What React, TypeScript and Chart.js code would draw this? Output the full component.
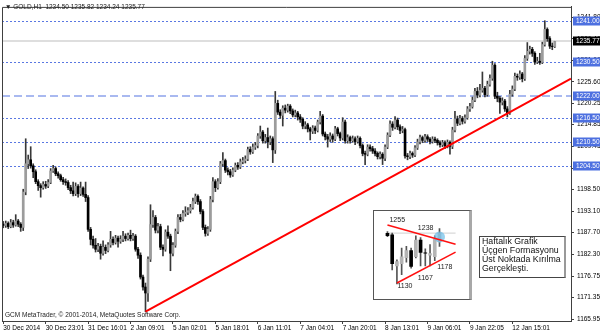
import React, { useEffect, useRef } from "react";
import { Chart, registerables } from "chart.js";
Chart.register(...registerables);

// ---------- main H1 chart data ----------
const firstOpen = 1189.8;
const closes = [
  1189.5,1190.0,1189.2,1190.2,1189.6,1190.6,1189.8,1189.0,1197.9,1205.0,
  1206.0,1204.5,1203.0,1200.5,1199.5,1199.0,1199.8,1199.4,1200.3,1203.2,
  1203.8,1202.5,1202.0,1201.0,1200.5,1200.3,1199.0,1198.2,1197.5,1199.3,
  1197.5,1198.9,1197.3,1196.5,1188.5,1186.0,1184.5,1183.5,1184.2,1182.5,
  1184.0,1183.2,1184.6,1186.0,1185.2,1186.3,1185.5,1186.0,1186.8,1186.2,
  1187.0,1186.2,1186.8,1183.5,1182.0,1176.5,1174.0,1172.5,1181.0,1189.7,
  1191.5,1188.3,1189.2,1184.0,1183.5,1187.8,1186.8,1182.5,1184.5,1188.0,
  1191.5,1191.0,1192.5,1192.8,1193.2,1194.0,1195.5,1196.8,1195.5,1193.0,
  1189.0,1187.5,1188.5,1196.0,1200.5,1199.0,1200.5,1205.0,1205.8,1203.4,
  1203.0,1202.2,1203.4,1204.6,1204.2,1205.5,1205.8,1206.2,1208.6,1208.0,
  1209.2,1209.6,1212.0,1213.0,1210.8,1211.6,1210.5,1211.3,1208.5,1220.2,
  1218.0,1217.2,1219.0,1218.5,1219.5,1218.3,1217.3,1217.8,1216.8,1216.2,
  1214.5,1214.8,1213.8,1213.2,1214.0,1213.4,1215.5,1217.0,1212.5,1211.8,
  1211.2,1212.0,1211.2,1213.8,1212.6,1211.5,1215.5,1210.8,1211.6,1210.8,
  1211.3,1210.6,1211.4,1209.6,1207.6,1207.4,1209.2,1208.8,1208.2,1207.6,
  1206.8,1207.4,1206.4,1209.2,1212.2,1215.0,1214.2,1216.0,1214.3,1213.4,
  1213.6,1207.0,1206.8,1207.6,1207.2,1209.0,1210.5,1211.6,1210.9,1211.8,
  1211.2,1210.6,1211.2,1210.9,1210.3,1209.8,1210.3,1209.5,1210.4,1209.4,
  1213.5,1216.3,1215.2,1216.4,1215.7,1216.6,1218.8,1219.4,1221.0,1223.2,
  1222.3,1223.5,1224.0,1222.4,1225.0,1226.5,1229.8,1222.0,1221.5,1220.5,
  1220.8,1218.8,1217.8,1222.5,1223.8,1227.0,1226.8,1227.6,1226.4,1231.5,
  1233.3,1233.8,1232.8,1230.6,1230.8,1230.5,1235.0,1238.8,1236.5,1234.6,
  1234.5,1235.77,
];
const highs = [
  1190.5,1190.6,1190.4,1191.0,1190.8,1192.2,1191.0,1190.2,1198.6,1211.3,
  1207.2,1209.3,1205.0,1203.5,1201.0,1200.0,1200.5,1200.6,1201.0,1203.8,
  1204.6,1204.2,1203.0,1202.4,1201.6,1201.2,1200.8,1199.6,1200.4,1200.2,
  1199.8,1200.4,1199.2,1200.4,1197.0,1189.0,1186.8,1186.2,1185.0,1184.8,
  1185.6,1184.6,1185.2,1188.0,1186.6,1187.0,1186.8,1186.9,1188.0,1187.4,
  1187.6,1188.3,1187.5,1187.2,1184.0,1182.6,1177.0,1175.0,1181.6,1194.7,
  1193.2,1192.0,1190.0,1189.8,1184.6,1188.4,1189.4,1187.3,1185.2,1188.6,
  1192.2,1192.3,1193.2,1194.2,1194.0,1194.8,1196.4,1197.4,1197.2,1196.0,
  1193.5,1189.6,1189.2,1196.8,1201.5,1201.0,1201.3,1205.6,1207.8,1206.2,
  1204.0,1203.6,1204.0,1205.2,1205.3,1206.2,1206.6,1207.0,1209.2,1209.3,
  1210.0,1210.4,1212.6,1214.5,1213.4,1212.4,1214.0,1212.0,1211.8,1223.2,
  1221.0,1218.6,1219.6,1219.8,1220.0,1219.9,1218.8,1218.5,1218.2,1217.4,
  1216.6,1215.6,1215.2,1214.2,1214.6,1214.5,1216.0,1218.2,1217.4,1213.0,
  1212.4,1212.8,1212.5,1214.4,1214.2,1213.0,1216.6,1216.0,1212.3,1212.0,
  1212.0,1211.8,1212.0,1211.8,1210.0,1208.2,1209.8,1209.8,1209.4,1208.8,
  1208.0,1208.0,1207.8,1209.8,1212.8,1215.8,1215.6,1216.9,1216.5,1214.8,
  1214.4,1214.0,1207.6,1208.2,1208.0,1209.6,1211.2,1212.2,1212.0,1212.4,
  1212.3,1211.6,1211.8,1211.7,1211.3,1210.8,1210.9,1210.8,1211.0,1210.8,
  1214.2,1218.2,1217.0,1217.2,1216.9,1217.3,1219.4,1220.2,1221.8,1224.0,
  1224.2,1225.0,1228.1,1224.5,1225.8,1227.4,1230.8,1230.2,1223.0,1222.0,
  1221.6,1221.2,1219.4,1223.5,1224.6,1227.8,1227.6,1228.4,1228.0,1232.2,
  1235.5,1234.6,1234.3,1233.2,1231.8,1232.8,1235.6,1241.0,1239.2,1237.0,
  1235.4,1235.82,
];
const lows = [
  1188.9,1189.0,1188.7,1188.9,1189.0,1189.3,1189.2,1188.0,1188.2,1197.2,
  1203.8,1203.9,1201.5,1200.0,1198.3,1196.6,1198.6,1198.8,1199.0,1200.0,
  1202.8,1202.0,1201.4,1200.6,1199.8,1199.6,1198.5,1197.5,1196.9,1197.0,
  1196.6,1197.0,1196.8,1195.5,1188.0,1184.6,1183.8,1182.8,1182.9,1181.0,
  1182.0,1182.4,1182.8,1184.0,1184.6,1184.8,1184.0,1185.0,1185.4,1185.6,
  1185.8,1185.6,1185.7,1183.0,1181.2,1176.0,1173.2,1167.8,1170.4,1180.4,
  1189.0,1187.6,1187.6,1183.4,1181.8,1183.0,1186.2,1178.1,1181.8,1184.0,
  1187.4,1190.4,1190.6,1191.8,1192.2,1192.6,1193.6,1195.0,1194.8,1192.4,
  1188.4,1186.8,1187.0,1188.0,1195.4,1198.0,1198.6,1200.0,1204.4,1202.8,
  1202.2,1201.6,1201.8,1203.0,1203.6,1203.8,1205.0,1205.2,1205.8,1207.4,
  1207.6,1208.6,1209.0,1211.4,1210.2,1210.2,1209.0,1209.8,1205.3,1207.6,
  1217.4,1216.4,1214.5,1217.8,1218.0,1217.6,1216.8,1216.8,1216.0,1215.4,
  1213.8,1213.8,1213.0,1211.0,1212.6,1212.6,1213.0,1215.0,1212.0,1211.0,
  1209.2,1210.6,1210.4,1210.8,1212.0,1210.8,1211.0,1210.2,1210.2,1210.2,
  1210.4,1209.8,1210.2,1209.0,1207.0,1204.8,1207.0,1208.2,1207.6,1207.0,
  1206.2,1206.2,1204.8,1205.8,1208.8,1211.8,1213.4,1213.8,1213.6,1212.6,
  1212.8,1206.4,1206.0,1206.3,1206.6,1206.8,1208.6,1210.0,1210.3,1210.4,
  1210.6,1210.0,1210.2,1210.3,1209.7,1209.2,1209.3,1208.8,1209.0,1207.4,
  1208.8,1213.0,1214.6,1214.8,1215.0,1215.2,1216.2,1218.2,1219.0,1220.6,
  1221.6,1221.8,1223.0,1221.8,1222.0,1224.5,1226.0,1221.4,1220.6,1217.7,
  1219.8,1218.2,1216.8,1217.4,1222.0,1223.4,1226.0,1226.2,1225.6,1226.0,
  1231.0,1232.6,1232.0,1230.0,1230.2,1230.0,1230.2,1234.6,1235.8,1234.0,
  1233.7,1234.24,
];
const barSlots = 228;
const timeTickBars = [0, 17, 34, 51, 68, 85, 102, 119, 136, 153, 170, 187, 204];
const timeTickLabels = [
  "30 Dec 2014", "30 Dec 23:01", "31 Dec 16:01", "2 Jan 09:01", "5 Jan 02:01",
  "5 Jan 18:01", "6 Jan 11:01", "7 Jan 04:01", "7 Jan 20:01", "8 Jan 13:01",
  "9 Jan 06:01", "9 Jan 22:05", "12 Jan 15:01",
];
const priceTicks = [
  1165.95, 1171.35, 1176.75, 1182.3, 1187.7, 1193.1, 1198.5, 1203.9,
  1209.45, 1214.85, 1220.25, 1225.6, 1231.0, 1236.4, 1241.8,
];
const priceMin = 1165.45;
const priceMax = 1244.47;
const dottedLevels = [1241.0, 1230.5, 1216.5, 1210.5, 1204.5];
const dashedLevels = [1222.0];
const bidPrice = 1235.77;
const trendLine = [
  { x: 57, y: 1167.8 },
  { x: 227.5, y: 1226.4 },
];

// ---------- inset (weekly) chart data ----------
const insetOpen = [1237, 1233.7, 1167, 1171.4, 1184.6, 1199.7, 1186.5, 1222.4, 1195, 1190, 1186.5, 1218.6];
const insetClose = [1232, 1171.4, 1176, 1186.5, 1199.7, 1165.8, 1222.4, 1195.9, 1194, 1193.5, 1224.2, 1237.5];
const insetHigh = [1241, 1237.5, 1180, 1205, 1209, 1205, 1231.8, 1228, 1203.5, 1213, 1231.8, 1247];
const insetLow = [1230, 1158, 1128, 1148, 1175, 1162, 1184, 1167, 1167, 1167, 1178, 1209];
const insetUpperLine = [{ x: 0, y: 1255 }, { x: 14.4, y: 1213.5 }];
const insetLowerLine = [{ x: 2, y: 1130 }, { x: 14.4, y: 1196.5 }];
const insetPriceLine = [{ x: 0.3, y: 1237.5 }, { x: 14.4, y: 1237.5 }];
const insetBreakout = [{ x: 11, y: 1229.3 }];
const insetLabels = [
  { text: "1255", x: 0, y: 1255 },
  { text: "1238", x: 6, y: 1238 },
  { text: "1178", x: 10, y: 1178 },
  { text: "1167", x: 6, y: 1167 },
  { text: "1130", x: 2, y: 1130 },
];
const insetLabelOffsets = [[2, -5], [2, -5], [2.5, 6.5], [2, 12.5], [0.5, 3]];

const noteLines = ["Haftalık Grafik", "Üçgen Formasyonu", "Üst Noktada Kırılma", "Gerçekleşti."];

const FONT = '"Liberation Sans", Arial, sans-serif';
const BULL = "#9c9c9c";
const BEAR = "#000000";
const WICK = "#383838";
const LEVEL_BLUE = "#4d70e0";

const levelsPlugin = {
  id: "levels",
  beforeDatasetsDraw(chart: any) {
    const { ctx, chartArea } = chart;
    const ys = chart.scales.y;
    const line = (v: number, color: string, w: number, dash: number[]) => {
      const y = Math.round(ys.getPixelForValue(v)) + (w % 2 ? 0.5 : 0);
      ctx.save();
      ctx.strokeStyle = color;
      ctx.lineWidth = w;
      ctx.setLineDash(dash);
      ctx.beginPath();
      ctx.moveTo(chartArea.left, y);
      ctx.lineTo(chartArea.right, y);
      ctx.stroke();
      ctx.restore();
    };
    line(bidPrice, "#dedede", 2, []);
    dashedLevels.forEach((v) => line(v, "#a9b9f0", 2, [8, 4]));
    dottedLevels.forEach((v) => line(v, "#5a78e2", 1, [2, 2]));
  },
  afterDraw(chart: any) {
    const { ctx, chartArea } = chart;
    const ys = chart.scales.y;
    ctx.save();
    ctx.strokeStyle = "#404040";
    ctx.lineWidth = 1;
    ctx.beginPath();
    ctx.moveTo(chartArea.left + 0.5, chartArea.bottom);
    ctx.lineTo(chartArea.left + 0.5, chartArea.top + 0.5);
    ctx.lineTo(chartArea.right, chartArea.top + 0.5);
    ctx.stroke();
    const box = (v: number, bg: string) => {
      const y = ys.getPixelForValue(v);
      ctx.fillStyle = bg;
      ctx.fillRect(chartArea.right + 2, Math.round(y) - 4.5, 27, 9);
      ctx.fillStyle = "#ffffff";
      ctx.font = `6.5px ${FONT}`;
      ctx.textBaseline = "middle";
      ctx.textAlign = "left";
      ctx.fillText(v.toFixed(2), chartArea.right + 5, Math.round(y));
    };
    [...dottedLevels, ...dashedLevels].forEach((v) => box(v, LEVEL_BLUE));
    box(bidPrice, "#000000");
    ctx.restore();
  },
};

const insetLabelPlugin = {
  id: "insetLabels",
  afterDatasetsDraw(chart: any) {
    const { ctx } = chart;
    const xs = chart.scales.x;
    const ys = chart.scales.y;
    ctx.save();
    ctx.font = `7px ${FONT}`;
    ctx.fillStyle = "#222";
    ctx.textBaseline = "middle";
    ctx.textAlign = "left";
    insetLabels.forEach((l, i) => {
      const [dx, dy] = insetLabelOffsets[i];
      ctx.fillText(l.text, xs.getPixelForValue(l.x) + dx, ys.getPixelForValue(l.y) + dy);
    });
    ctx.restore();
  },
};

function mainConfig(): any {
  const idx = closes.map((_, i) => i);
  const opens = [firstOpen, ...closes.slice(0, -1)];
  return {
    type: "bar",
    data: {
      datasets: [
        {
          type: "line",
          data: trendLine,
          borderColor: "#ff0000",
          borderWidth: 2,
          pointRadius: 0,
          order: 0,
        },
        {
          data: idx.map((i) => ({ x: i, y: [opens[i], closes[i]] })),
          backgroundColor: idx.map((i) => (closes[i] >= opens[i] ? BULL : BEAR)),
          borderWidth: 0,
          barThickness: 2,
          grouped: false,
          order: 1,
        },
        {
          data: idx.map((i) => ({ x: i, y: [lows[i], highs[i]] })),
          backgroundColor: WICK,
          borderWidth: 0,
          barThickness: 1,
          grouped: false,
          order: 2,
        },
      ],
    },
    options: {
      responsive: false,
      animation: false,
      events: [],
      layout: { padding: { left: 2, top: 2, right: 0, bottom: 0 } },
      plugins: { legend: { display: false }, tooltip: { enabled: false } },
      scales: {
        x: {
          type: "linear",
          min: -0.5,
          max: barSlots - 0.5,
          offset: false,
          bounds: "data",
          afterBuildTicks: (s: any) => {
            s.ticks = timeTickBars.map((v) => ({ value: v }));
          },
          afterFit: (s: any) => {
            s.height = 12;
          },
          ticks: {
            autoSkip: false,
            maxRotation: 0,
            minRotation: 0,
            align: "start",
            padding: 0,
            color: "#000",
            font: { family: FONT, size: 6.5 },
            callback: (v: any) => timeTickLabels[timeTickBars.indexOf(Number(v))] ?? "",
          },
          grid: { drawOnChartArea: false, drawTicks: true, tickLength: 3, color: "#404040", offset: false },
          border: { display: true, color: "#404040" },
        },
        y: {
          position: "right",
          min: priceMin,
          max: priceMax,
          beginAtZero: false,
          bounds: "data",
          afterBuildTicks: (s: any) => {
            s.ticks = priceTicks.map((v) => ({ value: v }));
          },
          afterFit: (s: any) => {
            s.width = 29;
          },
          ticks: {
            padding: 3,
            color: "#000",
            font: { family: FONT, size: 6.5 },
            callback: (v: any) => Number(v).toFixed(2),
          },
          grid: { drawOnChartArea: false, drawTicks: true, tickLength: 3, color: "#404040" },
          border: { display: true, color: "#404040" },
        },
      },
    },
    plugins: [levelsPlugin],
  };
}

function insetConfig(): any {
  const idx = insetClose.map((_, i) => i);
  return {
    type: "bar",
    data: {
      datasets: [
        { type: "line", data: insetUpperLine, borderColor: "#ff1010", borderWidth: 1.5, pointRadius: 0, order: 0 },
        { type: "line", data: insetLowerLine, borderColor: "#ff1010", borderWidth: 1.5, pointRadius: 0, order: 0 },
        {
          type: "scatter",
          data: insetBreakout,
          pointRadius: 5.5,
          pointBackgroundColor: "rgba(110,190,232,0.7)",
          pointBorderWidth: 0,
          order: 0,
        },
        {
          data: idx.map((i) => ({ x: i, y: [insetOpen[i], insetClose[i]] })),
          backgroundColor: idx.map((i) => (insetClose[i] >= insetOpen[i] ? "#b4b4b4" : "#000")),
          borderWidth: 0,
          barThickness: 3,
          grouped: false,
          order: 1,
        },
        {
          data: idx.map((i) => ({ x: i, y: [insetLow[i], insetHigh[i]] })),
          backgroundColor: "#555",
          borderWidth: 0,
          barThickness: 1,
          grouped: false,
          order: 2,
        },
        { type: "line", data: insetPriceLine, borderColor: "#cfcfcf", borderWidth: 1, pointRadius: 0, order: 3 },
      ],
    },
    options: {
      responsive: false,
      animation: false,
      events: [],
      layout: { padding: 0 },
      plugins: { legend: { display: false }, tooltip: { enabled: false } },
      scales: {
        x: { type: "linear", display: false, min: -1.682, max: 16.075, offset: false, bounds: "data" },
        y: { display: false, min: 1107.3, max: 1273.3, beginAtZero: false, bounds: "data" },
      },
    },
    plugins: [insetLabelPlugin],
  };
}

export default function App() {
  const mainRef = useRef<HTMLCanvasElement>(null);
  const insetRef = useRef<HTMLCanvasElement>(null);
  useEffect(() => {
    const main = new Chart(mainRef.current as HTMLCanvasElement, mainConfig());
    const inset = new Chart(insetRef.current as HTMLCanvasElement, insetConfig());
    return () => {
      main.destroy();
      inset.destroy();
    };
  }, []);
  const small: React.CSSProperties = {
    position: "absolute",
    fontFamily: FONT,
    fontSize: 6.5,
    lineHeight: "8px",
    color: "#222",
    whiteSpace: "pre",
  };
  return (
    <div
      style={{
        position: "absolute",
        left: 0,
        top: 0,
        width: 600,
        height: 333,
        background: "#fff",
        overflow: "hidden",
      }}
    >
      <canvas ref={mainRef} width={600} height={333} style={{ position: "absolute", left: 0, top: 0 }} />
      <div style={{ ...small, left: 5, top: 3 }}>{"▼ GOLD,H1  1234.50 1235.82 1234.24 1235.77"}</div>
      <div style={{ ...small, left: 5, top: 311 }}>
        {"GCM MetaTrader, © 2001-2014, MetaQuotes Software Corp."}
      </div>
      <div
        style={{
          position: "absolute",
          left: 373,
          top: 210,
          width: 95,
          height: 88,
          background: "#fff",
          borderTop: "1px solid #555",
          borderLeft: "1px solid #555",
          borderBottom: "1px solid #555",
          borderRight: "3px solid #a8a8a8",
        }}
      >
        <canvas ref={insetRef} width={95} height={88} style={{ position: "absolute", left: 0, top: 0 }} />
      </div>
      <div
        style={{
          position: "absolute",
          left: 479,
          top: 236,
          width: 84,
          height: 40,
          background: "#fff",
          border: "1px solid #444",
          borderRight: "2px solid #999",
        }}
      >
        <div
          style={{
            position: "absolute",
            left: 2,
            top: -0.5,
            fontFamily: FONT,
            fontSize: 8.8,
            lineHeight: "9.2px",
            color: "#111",
            whiteSpace: "nowrap",
          }}
        >
          {noteLines.map((t) => (
            <div key={t}>{t}</div>
          ))}
        </div>
      </div>
    </div>
  );
}
